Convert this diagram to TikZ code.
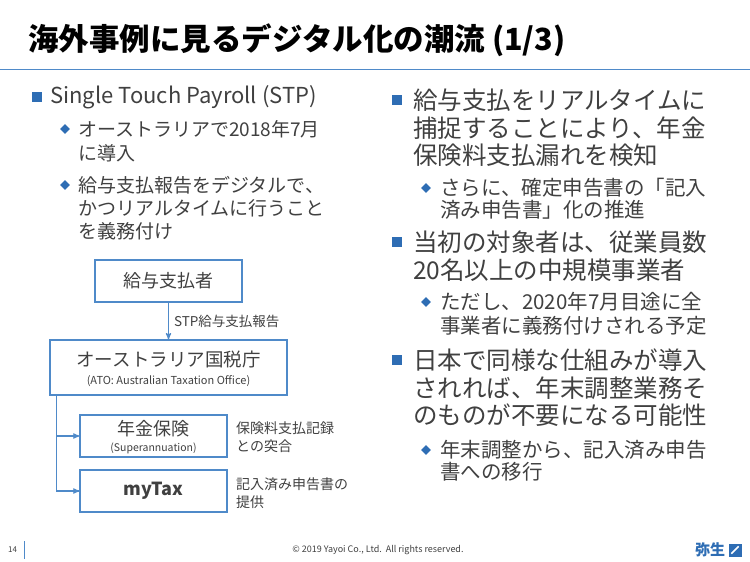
\documentclass[tikz,border=0pt]{standalone}
\usepackage{fontspec}
\setmainfont{Noto Sans CJK JP}
\usetikzlibrary{shapes,calc,arrows}
\usepackage{xcolor}
\definecolor{bullblue}{HTML}{2E6DB4}
\definecolor{boxblue}{HTML}{4F8AC9}
\definecolor{txtgray}{HTML}{404040}
\tikzset{
  txt/.style={anchor=west,inner sep=0pt,text=txtgray},
  sq/.style={fill=bullblue,minimum size=10pt,inner sep=0pt},
  dia/.style={fill=bullblue,diamond,minimum size=10pt,inner sep=0pt},
  flowbox/.style={draw=boxblue,line width=1.2pt,inner sep=0pt},
}
\begin{document}
\begin{tikzpicture}[x=1pt,y=-1pt]
  \useasboundingbox (0,0) rectangle (750,562);

  % title
  \node (title) [txt,text=black,font=\fontsize{30.5}{32}\selectfont\bfseries] at (28,40) {海外事例に見るデジタル化の潮流 (1/3)};
  \draw[boxblue,line width=1pt] (0,69) -- (750,69);

  % left column
  \node (s1) [sq] at (37,97) {};
  \node [txt,font=\fontsize{22}{24}\selectfont] at (50,97) {Single Touch Payroll (STP)};
  \node (d1) [dia] at (65,129) {};
  \node [txt,font=\fontsize{19}{21}\selectfont] at (78,129) {オーストラリアで2018年7月};
  \node [txt,font=\fontsize{19}{21}\selectfont] at (78,153) {に導入};
  \node (d2) [dia] at (65,185) {};
  \node [txt,font=\fontsize{19}{21}\selectfont] at (78,185) {給与支払報告をデジタルで、};
  \node [txt,font=\fontsize{19}{21}\selectfont] at (78,208) {かつリアルタイムに行うこと};
  \node [txt,font=\fontsize{19}{21}\selectfont] at (78,231) {を義務付け};

  % flow
  \node (payer) [flowbox,minimum width=147pt,minimum height=42pt,font=\fontsize{18}{20}\selectfont,text=txtgray] at (168.5,281) {給与支払者};
  \node (ato) [flowbox,minimum width=237pt,minimum height=55pt] at (168.5,367.5) {};
  \node [txt,anchor=center,font=\fontsize{18.5}{20}\selectfont] at (168.5,359) {オーストラリア国税庁};
  \node [txt,anchor=center,font=\fontsize{11}{12}\selectfont] at (168.5,381) {(ATO: Australian Taxation Office)};
  \node (super) [flowbox,minimum width=147pt,minimum height=42pt] at (153.5,436) {};
  \node [txt,anchor=center,font=\fontsize{18}{20}\selectfont] at (153.5,429) {年金保険};
  \node [txt,anchor=center,font=\fontsize{10.5}{12}\selectfont] at (153.5,448) {(Superannuation)};
  \node (mytax) [flowbox,minimum width=147pt,minimum height=42pt,font=\fontsize{18}{20}\selectfont\bfseries,text=txtgray] at (153.5,491) {myTax};

  \draw[->,>=stealth',boxblue,line width=1.2pt] (payer.south) -- node[txt,right=5pt,font=\fontsize{13.5}{15}\selectfont] {STP給与支払報告} (ato.north);
  \coordinate (trunk) at ($(ato.south west)+(7,0)$);
  \draw[boxblue,line width=1.2pt] (trunk) |- (mytax.west);
  \draw[->,>=stealth',boxblue,line width=1.2pt] (trunk |- super.west) -- (super.west);
  \draw[->,>=stealth',boxblue,line width=1.2pt] (trunk |- mytax.west) -- (mytax.west);

  \node [txt,font=\fontsize{14}{16}\selectfont] at (236,428) {保険料支払記録};
  \node [txt,font=\fontsize{14}{16}\selectfont] at (236,446) {との突合};
  \node [txt,font=\fontsize{14}{16}\selectfont] at (236,484) {記入済み申告書の};
  \node [txt,font=\fontsize{14}{16}\selectfont] at (236,502) {提供};

  % right column
  \node (s2) [sq] at (397,100) {};
  \node [txt,font=\fontsize{24.5}{26}\selectfont] at (413,100) {給与支払をリアルタイムに};
  \node [txt,font=\fontsize{24.5}{26}\selectfont] at (413,128) {捕捉することにより、年金};
  \node [txt,font=\fontsize{24.5}{26}\selectfont] at (413,155) {保険料支払漏れを検知};
  \node (d3) [dia] at (426,188) {};
  \node [txt,font=\fontsize{20.5}{22}\selectfont] at (440,188) {さらに、確定申告書の「記入};
  \node [txt,font=\fontsize{20.5}{22}\selectfont] at (440,210) {済み申告書」化の推進};
  \node (s3) [sq] at (397,242) {};
  \node [txt,font=\fontsize{24.5}{26}\selectfont] at (413,242) {当初の対象者は、従業員数};
  \node [txt,font=\fontsize{24.5}{26}\selectfont] at (413,270) {20名以上の中規模事業者};
  \node (d4) [dia] at (426,302) {};
  \node [txt,font=\fontsize{20.5}{22}\selectfont] at (440,302) {ただし、2020年7月目途に全};
  \node [txt,font=\fontsize{20.5}{22}\selectfont] at (440,326) {事業者に義務付けされる予定};
  \node (s4) [sq] at (397,360) {};
  \node [txt,font=\fontsize{24.5}{26}\selectfont] at (413,360) {日本で同様な仕組みが導入};
  \node [txt,font=\fontsize{24.5}{26}\selectfont] at (413,388) {されれば、年末調整業務そ};
  \node [txt,font=\fontsize{24.5}{26}\selectfont] at (413,415) {のものが不要になる可能性};
  \node (d5) [dia] at (426,450) {};
  \node [txt,font=\fontsize{20.5}{22}\selectfont] at (440,450) {年末調整から、記入済み申告};
  \node [txt,font=\fontsize{20.5}{22}\selectfont] at (440,472) {書への移行};

  % footer
  \node (page) [txt,font=\fontsize{8}{9}\selectfont] at (8,550) {14};
  \draw[boxblue,line width=0.6pt] (24,541) -- (24,559);
  \node (copy) [txt,anchor=center,font=\fontsize{9}{10}\selectfont] at (378,550) {© 2019 Yayoi Co., Ltd.\ \ All rights reserved.};
  \node (logo) [txt,text=bullblue,font=\fontsize{15}{17}\selectfont\bfseries] at (695,550) {弥生};
  \node (logobox) [fill=bullblue,minimum size=13pt,inner sep=0pt] at (735,550) {};
  \draw[white,line width=1.5pt] ($(logobox.south west)+(3,-3)$) -- ($(logobox.north east)+(-3,3)$);
\end{tikzpicture}
\end{document}
